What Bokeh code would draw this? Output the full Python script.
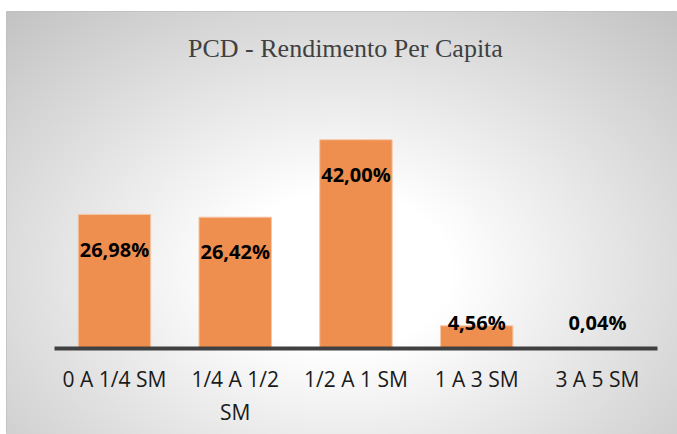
import numpy as np
from bokeh.plotting import figure
from bokeh.models import (ColumnDataSource, Range1d, LinearAxis, FixedTicker, Label)
from bokeh.core.properties import value
from bokeh.embed import file_html
from bokeh.resources import INLINE

# ---- data ----
categories = ["0 A 1/4 SM", "1/4 A 1/2\nSM", "1/2 A 1 SM", "1 A 3 SM", "3 A 5 SM"]
values = [26.98, 26.42, 42.00, 4.56, 0.04]
labels = ["26,98%", "26,42%", "42,00%", "4,56%", "0,04%"]
title_text = "PCD - Rendimento Per Capita"

W, H = 677, 434
LEFT, TOP = 6, 11
FW, FH = W - LEFT, H - TOP  # frame size

p = figure(width=W, height=H, output_backend="svg", toolbar_location=None,
           x_axis_type=None, y_axis_type=None,
           x_range=Range1d(-0.394, 5.163), y_range=Range1d(-17.3, 67.8),
           min_border_left=LEFT, min_border_right=0, min_border_top=TOP, min_border_bottom=0,
           border_fill_color="white", background_fill_color="white",
           outline_line_color="#bfbfbf", outline_line_width=1)
p.xgrid.visible = False
p.ygrid.visible = False

# ---- radial gradient background ----
p.extra_x_ranges = {"bg": Range1d(0, 1)}
p.extra_y_ranges = {"bg": Range1d(0, 1)}
xs = np.arange(FW) + float(LEFT)
ys = (np.arange(FH)[::-1]) + float(TOP)  # page y, row 0 is bottom
X, Y = np.meshgrid(xs, ys)
dx = (X - 340.0) / 380.0
dy = (Y - 270.0) / 270.0
t = np.sqrt(dx ** 2 + dy ** 2)
s = np.clip((t - 0.3) / 1.0, 0, 1)
c = (255 - 60 * s).astype(np.uint32)
img = ((255 << 24) | (c << 16) | (c << 8) | c).astype(np.uint32)
p.image_rgba(image=[img], x=0, y=0, dw=1, dh=1, x_range_name="bg", y_range_name="bg")

# ---- bars ----
xpos = [i + 0.5 for i in range(len(categories))]
ylab = [max(v - 7.0, 5.2) for v in values]
src = ColumnDataSource(dict(x=xpos, top=values, lab=labels, ylab=ylab))
p.vbar(x="x", top="top", bottom=0, width=0.6, source=src,
       fill_color="#EE8E4F", line_color="#f6c7a6", line_width=1)

p.text(x="x", y="ylab", text="lab", source=src,
       text_font=value("Open Sans"), text_font_style="bold", text_font_size="20px",
       text_color="#000000", text_align="center", text_baseline="middle")

# ---- category axis at y=0 ----
ax = LinearAxis(fixed_location=0, ticker=FixedTicker(ticks=xpos),
                major_label_overrides={x: c for x, c in zip(xpos, categories)},
                bounds=(0, len(categories)))
ax.axis_line_color = "#404040"
ax.axis_line_width = 4
ax.major_tick_line_color = None
ax.minor_tick_line_color = None
ax.major_label_standoff = 10
ax.major_label_text_font = "Open Sans"
ax.major_label_text_font_size = "21px"
ax.major_label_text_color = "#1a1a1a"
p.add_layout(ax, "below")

# ---- title ----
p.add_layout(Label(x=2.413, y=60.4, text=title_text, text_font="Liberation Serif",
                   text_font_size="26px", text_color="#404040",
                   text_align="center", text_baseline="middle"))

open("out.html", "w").write(file_html(p, INLINE))
